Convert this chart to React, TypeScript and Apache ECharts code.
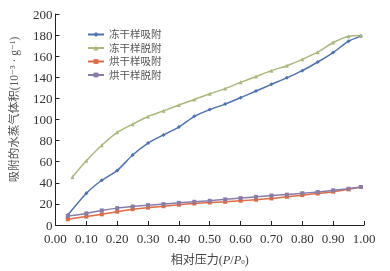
import React, { useEffect, useRef } from "react";
import * as echarts from "echarts";

const seriesNames = ["冻干样吸附", "冻干样脱附", "烘干样吸附", "烘干样脱附"];

const xAdsFreeze = [0.04, 0.1, 0.15, 0.2, 0.25, 0.3, 0.35, 0.4, 0.45, 0.5, 0.55, 0.6, 0.65, 0.7, 0.75, 0.8, 0.85, 0.9, 0.95, 0.99];
const yAdsFreeze = [9.4, 30, 42.4, 51.6, 66.4, 77.7, 85.4, 92.8, 103, 109.4, 114.6, 120.7, 127, 133.3, 139.5, 146.3, 154.5, 163.5, 174.2, 179];

const xDesFreeze = [0.055, 0.1, 0.15, 0.2, 0.25, 0.3, 0.35, 0.4, 0.45, 0.5, 0.55, 0.6, 0.65, 0.7, 0.75, 0.8, 0.85, 0.9, 0.95, 0.99];
const yDesFreeze = [45.6, 60.8, 75.6, 87.8, 95.6, 102.9, 108.2, 113.7, 119, 124.4, 129.3, 135.2, 140.7, 146.3, 151, 157, 163.8, 173, 179, 179.7];

const xAdsOven = [0.04, 0.1, 0.15, 0.2, 0.25, 0.3, 0.35, 0.4, 0.45, 0.5, 0.55, 0.6, 0.65, 0.7, 0.75, 0.8, 0.85, 0.9, 0.95, 0.99];
const yAdsOven = [5.5, 8, 10.1, 12.6, 15, 16.5, 17.8, 19.2, 20.4, 21.3, 22, 23, 24, 25.2, 26.7, 28.3, 29.8, 31.6, 33.8, 36];

const xDesOven = [0.04, 0.1, 0.15, 0.2, 0.25, 0.3, 0.35, 0.4, 0.45, 0.5, 0.55, 0.6, 0.65, 0.7, 0.75, 0.8, 0.85, 0.9, 0.95, 0.99];
const yDesOven = [8.6, 11, 13.8, 16, 17.5, 18.8, 19.8, 21, 22, 23, 24.3, 25.5, 26.7, 27.9, 28.8, 30.1, 31.3, 32.9, 34.4, 36];

const colors = ["#4e72b0", "#a9b87c", "#dd6b45", "#8a7ca8"];
const symbols = ["diamond", "triangle", "rect", "rect"];

const FONT = "'Times New Roman', 'Liberation Serif', 'DejaVu Serif', 'Noto Sans CJK SC', serif";

function pairs(xs: number[], ys: number[]) {
  return xs.map((x, i) => [x, ys[i]]);
}

export default function App() {
  const ref = useRef<HTMLDivElement>(null);
  useEffect(() => {
    if (!ref.current) return;
    const chart = echarts.init(ref.current, null, { renderer: "svg" });
    const datasets = [
      pairs(xAdsFreeze, yAdsFreeze),
      pairs(xDesFreeze, yDesFreeze),
      pairs(xAdsOven, yAdsOven),
      pairs(xDesOven, yDesOven),
    ];
    chart.setOption({
      animation: false,
      textStyle: { fontFamily: FONT },
      grid: { left: 49, right: 26, top: 14, bottom: 40, containLabel: false },
      legend: {
        orient: "vertical",
        left: 82,
        top: 24,
        itemWidth: 16,
        itemHeight: 6,
        itemGap: 2.5,
        textStyle: { fontSize: 10.5, color: "#555", fontFamily: FONT, lineHeight: 11 },
        data: seriesNames,
      },
      xAxis: {
        type: "value",
        min: 0,
        max: 1,
        interval: 0.1,
        name: "{a|相对压力(}{i|P}{a|/}{i|P}{s|0}{a|)}",
        nameLocation: "middle",
        nameGap: 28,
        nameTextStyle: {
          rich: {
            a: { fontSize: 12, color: "#444", fontFamily: FONT },
            i: { fontSize: 12.5, color: "#444", fontStyle: "italic", fontFamily: FONT },
            s: { fontSize: 7, color: "#444", fontFamily: FONT, padding: [6, 0, 0, 0] },
          },
        },
        axisLine: { show: true, lineStyle: { color: "#222", width: 1 } },
        axisTick: { show: true, inside: true, length: 4, lineStyle: { color: "#222" } },
        axisLabel: { fontSize: 13, color: "#333", margin: 7, formatter: (v: number) => v.toFixed(2), fontFamily: FONT },
        splitLine: { show: false },
      },
      yAxis: {
        type: "value",
        min: 0,
        max: 200,
        interval: 20,
        name: "吸附的水蒸气体积(10⁻³ · g⁻¹)",
        nameLocation: "middle",
        nameGap: 36,
        nameRotate: 90,
        nameTextStyle: { fontSize: 11.5, color: "#555", fontFamily: FONT, padding: [0, 0, 0, 20] },
        axisLine: { show: true, lineStyle: { color: "#222", width: 1 } },
        axisTick: { show: true, inside: true, length: 4, lineStyle: { color: "#222" } },
        axisLabel: { fontSize: 13, color: "#333", margin: 3, fontFamily: FONT },
        splitLine: { show: false },
      },
      series: seriesNames.map((name, i) => ({
        name,
        type: "line",
        data: datasets[i],
        smooth: 0.2,
        symbol: symbols[i],
        symbolSize: 4,
        lineStyle: { color: colors[i], width: 1.5 },
        itemStyle: { color: colors[i] },
      })),
    });
    return () => chart.dispose();
  }, []);
  return <div ref={ref} style={{ position: "fixed", left: 0, top: 0, width: 390, height: 271 }} />;
}
